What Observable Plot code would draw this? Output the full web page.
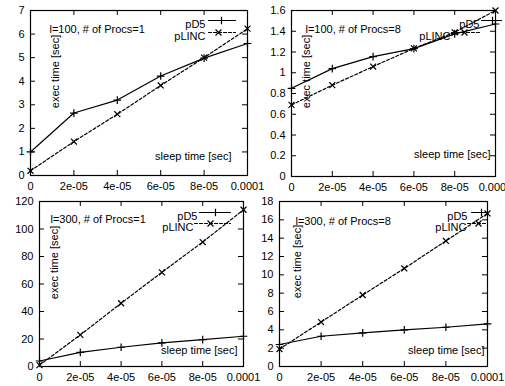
<!DOCTYPE html>
<html>
<head>
<meta charset="utf-8">
<script src="https://cdn.jsdelivr.net/npm/d3@7"></script>
<script src="https://cdn.jsdelivr.net/npm/@observablehq/plot@0.6"></script>
<style>
  html, body { margin: 0; padding: 0; background: #fff; }
  #chart { position: relative; width: 505px; height: 386px; overflow: hidden; background: #fff; }
  #chart svg { position: absolute; left: 0; top: 0; }
</style>
</head>
<body>
<div id="chart"></div>
<script>
// ---- data ----
const sleepTimes = [0, 2e-5, 4e-5, 6e-5, 8e-5, 1e-4];
const xTickLabels = ["0", "2e-05", "4e-05", "6e-05", "8e-05", "0.0001"];
const seriesNames = ["pD5", "pLINC"];
const panelTitles = ["l=100, # of Procs=1", "l=100, # of Procs=8", "l=300, # of Procs=1", "l=300, # of Procs=8"];
const xAxisTitle = "sleep time [sec]";
const yAxisTitle = "exec time [sec]";

const yTicksL100P1 = [0, 1, 2, 3, 4, 5, 6, 7];
const yTicksL100P8 = [0, 0.2, 0.4, 0.6, 0.8, 1, 1.2, 1.4, 1.6];
const yTicksL300P1 = [0, 20, 40, 60, 80, 100, 120];
const yTicksL300P8 = [0, 2, 4, 6, 8, 10, 12, 14, 16, 18];

const pD5L100P1 = [1.0, 2.65, 3.2, 4.22, 4.98, 5.6];
const pLINCL100P1 = [0.2, 1.44, 2.6, 3.82, 5.0, 6.23];
const pD5L100P8 = [0.85, 1.04, 1.155, 1.232, 1.375, 1.47];
const pLINCL100P8 = [0.69, 0.88, 1.06, 1.235, 1.39, 1.6];
const pD5L300P1 = [4.0, 10.3, 14.0, 17.2, 19.6, 22.0];
const pLINCL300P1 = [1.0, 23.0, 46.0, 68.5, 90.5, 114.0];
const pD5L300P8 = [2.4, 3.3, 3.67, 4.0, 4.28, 4.65];
const pLINCL300P8 = [1.9, 4.85, 7.8, 10.7, 13.7, 16.7];

// ---- layout ----
const W = 505, H = 386;
const FONT = "'Liberation Sans', Arial, Helvetica, sans-serif";

const panels = [
  { title: panelTitles[0], d5: pD5L100P1, linc: pLINCL100P1, yTicks: yTicksL100P1,
    frame: [30, 247, 10, 175], titlePos: [19, 15], ylabPos: [21, 61], xlabPos: [-16, -16],
    leg: [{text: -42, l0: -39, l1: -12, m: -26, dy: 10}, {text: -42, l0: -39, l1: -12, m: -29, dy: 22}] },
  { title: panelTitles[1], d5: pD5L100P8, linc: pLINCL100P8, yTicks: yTicksL100P8,
    frame: [291, 495, 10, 176], titlePos: [14, 15], ylabPos: [11, 61], xlabPos: [-5, -19],
    leg: [{text: -16, l0: -14, l1: 6, m: -3, dy: 10}, {text: -45, l0: -44, l1: -14, m: -31, dy: 22}] },
  { title: panelTitles[2], d5: pD5L300P1, linc: pLINCL300P1, yTicks: yTicksL300P1,
    frame: [39, 243, 201, 366], titlePos: [11, 14], ylabPos: [11, 61], xlabPos: [-6, -13],
    leg: [{text: -46, l0: -44, l1: -13, m: -28, dy: 11}, {text: -50, l0: -49, l1: -13, m: -33, dy: 22}] },
  { title: panelTitles[3], d5: pD5L300P8, linc: pLINCL300P8, yTicks: yTicksL300P8,
    frame: [279, 487, 201, 366], titlePos: [16, 16], ylabPos: [14, 60], xlabPos: [-3, -13],
    leg: [{text: -20, l0: -16, l1: 0, m: -6, dy: 11}, {text: -21, l0: -20, l1: 0, m: -9, dy: 22}] }
];

const hline = { draw(context, l) { context.moveTo(0, 0); context.lineTo(0, -l); } };
const seriesStyle = [
  { symbol: "plus", r: 2.6, dash: null },
  { symbol: "times", r: 2.8, dash: "3,2" }
];

function makePanel(p) {
  const [left, right, top, bottom] = p.frame;
  const fw = right - left, fh = bottom - top;
  const yMax = p.yTicks[p.yTicks.length - 1];
  const series = [p.d5, p.linc].map((vals, s) =>
    sleepTimes.map((x, i) => ({ x, y: vals[i], name: seriesNames[s] })));

  const marks = [
    Plot.frame({ stroke: "black", strokeWidth: 1.2 }),
    Plot.tickX(sleepTimes, { x: d => d, insetTop: fh - 5, stroke: "black" }),
    Plot.tickX(sleepTimes, { x: d => d, insetBottom: fh - 5, stroke: "black" }),
    Plot.tickY(p.yTicks, { y: d => d, insetRight: fw - 5, stroke: "black" }),
    Plot.tickY(p.yTicks, { y: d => d, insetLeft: fw - 5, stroke: "black" }),
    Plot.text([p.title], { frameAnchor: "top-left", dx: p.titlePos[0], dy: p.titlePos[1], textAnchor: "start", fill: "black" }),
    Plot.text([yAxisTitle], { frameAnchor: "top-left", dx: p.ylabPos[0], dy: p.ylabPos[1], rotate: -90, textAnchor: "middle", fill: "black" }),
    Plot.text([xAxisTitle], { frameAnchor: "bottom-right", dx: p.xlabPos[0], dy: p.xlabPos[1], textAnchor: "end", fill: "black" })
  ];

  series.forEach((rows, s) => {
    const st = seriesStyle[s];
    marks.push(Plot.line(rows, { x: "x", y: "y", stroke: "black", strokeWidth: 1.2, strokeDasharray: st.dash }));
    marks.push(Plot.dot(rows, { x: "x", y: "y", symbol: st.symbol, r: st.r, stroke: "black", strokeWidth: 1.2 }));
    const lg = p.leg[s];
    marks.push(Plot.text([seriesNames[s]], { frameAnchor: "top-right", dx: lg.text, dy: lg.dy, textAnchor: "end", fill: "black" }));
    marks.push(Plot.vector([seriesNames[s]], { frameAnchor: "top-right", dx: lg.l0, dy: lg.dy, length: lg.l1 - lg.l0, rotate: 90, anchor: "start", shape: hline, stroke: "black", strokeWidth: 1.2, strokeDasharray: st.dash }));
    marks.push(Plot.dot([seriesNames[s]], { frameAnchor: "top-right", dx: lg.m, dy: lg.dy, symbol: st.symbol, r: st.r, stroke: "black", strokeWidth: 1.2 }));
  });

  return Plot.plot({
    width: W, height: H,
    marginLeft: left, marginRight: W - right, marginTop: top, marginBottom: H - bottom,
    style: { background: "transparent", overflow: "visible", fontFamily: FONT, fontSize: "11px", color: "black" },
    x: { type: "linear", domain: [0, 1e-4], ticks: sleepTimes, tickFormat: d => xTickLabels[sleepTimes.indexOf(d)], tickSize: 0, tickPadding: 7, label: null },
    y: { type: "linear", domain: [0, yMax], ticks: p.yTicks, tickFormat: d => String(d), tickSize: 0, tickPadding: 6, label: null },
    marks
  });
}

const chart = document.getElementById("chart");
panels.forEach(p => chart.appendChild(makePanel(p)));
</script>
</body>
</html>
